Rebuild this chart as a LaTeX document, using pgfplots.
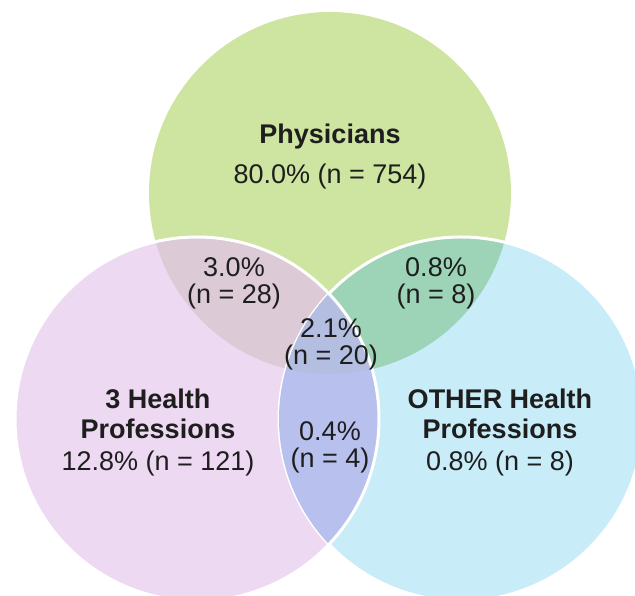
\documentclass[border=0pt]{standalone}
\usepackage{pgfplots}
\pgfplotsset{compat=1.18}
\usepackage{fontspec}
\setmainfont{Liberation Sans}
\definecolor{cG}{HTML}{CDE5A0}
\definecolor{cP}{HTML}{EDD9F2}
\definecolor{cB}{HTML}{C8ECF8}
\definecolor{cGP}{HTML}{DCCAD6}
\definecolor{cGB}{HTML}{9DD3B6}
\definecolor{cPB}{HTML}{B8C0EE}
\definecolor{cT}{HTML}{B3BEE0}
\definecolor{txt}{HTML}{1E1E1E}
\begin{document}
\begin{tikzpicture}
\begin{axis}[
  width=635pt, height=596pt, scale only axis,
  xmin=0, xmax=635, ymin=0, ymax=596,
  hide axis, enlargelimits=false,
]
\def\G{(axis cs:330,403) circle[radius=181]}
\def\P{(axis cs:197,177) circle[radius=182]}
\def\B{(axis cs:461,177) circle[radius=182]}
\fill[cG] \G;
\fill[cP] \P;
\fill[cB] \B;
\begin{scope}\clip \G; \fill[cGP] \P; \end{scope}
\begin{scope}\clip \G; \fill[cGB] \B; \end{scope}
\draw[white, line width=3pt] \B;
\begin{scope}\clip \P; \fill[cPB] \B; \end{scope}
\begin{scope}\clip \G; \clip \P; \fill[cT] \B; \end{scope}
\draw[white, line width=3pt] \P;
\tikzset{lab/.style={inner sep=0pt, text=txt, font=\fontsize{27}{30}\selectfont},
         blab/.style={lab, font=\fontsize{27}{30}\selectfont\bfseries}}
\node[blab] at (axis cs:330,459) {Physicians};
\node[lab]  at (axis cs:330,419) {80.0\% (n = 754)};
\node[lab]  at (axis cs:234,329) {3.0\%};
\node[lab]  at (axis cs:234,299) {(n = 28)};
\node[lab]  at (axis cs:436,329) {0.8\%};
\node[lab]  at (axis cs:436,299) {(n = 8)};
\node[lab]  at (axis cs:331,268) {2.1\%};
\node[lab]  at (axis cs:331,238) {(n = 20)};
\node[blab] at (axis cs:158,197) {3 Health};
\node[blab] at (axis cs:158,167) {Professions};
\node[lab]  at (axis cs:158,132) {12.8\% (n = 121)};
\node[lab]  at (axis cs:330,165) {0.4\%};
\node[lab]  at (axis cs:330,135) {(n = 4)};
\node[blab] at (axis cs:500,197) {OTHER Health};
\node[blab] at (axis cs:500,167) {Professions};
\node[lab]  at (axis cs:500,132) {0.8\% (n = 8)};
\end{axis}
\pgfresetboundingbox
\useasboundingbox (current axis.south west) rectangle (current axis.north east);
\end{tikzpicture}
\end{document}
